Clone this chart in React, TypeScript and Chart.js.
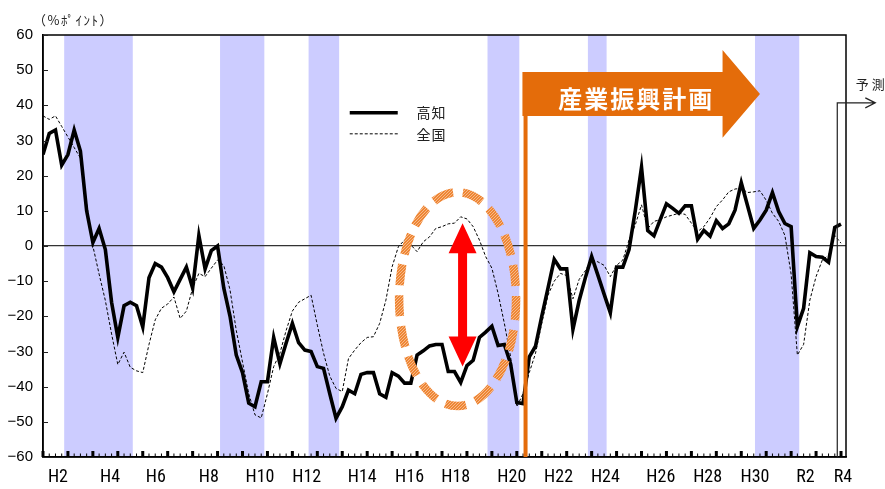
import React, { useEffect, useRef } from 'react';
import { Chart, registerables } from 'chart.js';

Chart.register(...registerables);

// 高知 (Kochi) business conditions DI, quarterly from H2.3 (index 0) to R4.3 forecast (index 128)
const kochi = [
  26, 32, 33, 23, 26, 33, 27, 10, 1, 5,
  -1, -16, -26, -17, -16, -17, -23, -9, -5, -6,
  -9, -13, -9.5, -6, -12, 3, -6.5, -1.3, 0, -12,
  -20, -31, -36, -44.7, -45.7, -38.6, -38.6, -26, -33.5, -27.6,
  -22, -27.5, -29.6, -30, -34.3, -34.8, -42, -49, -45.7, -41,
  -42, -36.5, -36, -36, -42, -43, -36, -37, -39, -39,
  -31, -29.8, -28.4, -28, -28, -35.7, -35.7, -38.8, -34, -32.5,
  -26, -24.5, -22.8, -28.3, -28, -33.5, -44.5, -44.8, -31.5, -28.5,
  -20, -12, -3.8, -6.5, -6.5, -23.7, -15.5, -9, -3, -8.3,
  -13.7, -19, -6, -6, -1, 10, 22.4, 4.4, 2.9, 7.5,
  12, 10.7, 9.3, 11.4, 11.4, 1.9, 4.4, 2.8, 7.2, 5,
  6.3, 10.2, 18, 11.5, 5, 7.4, 10.2, 15.2, 9.8, 6.4,
  5.5, -22.9, -17.7, -1.9, -3, -3.2, -4.6, 5.3, 6.2,
];

// 全国 (nationwide)
const national = [
  37, 36, 37, 34, 31, 28, 25, 12, 0, -8,
  -15.5, -25, -33.7, -30.2, -34.5, -35.5, -36, -28, -21, -17.7,
  -16.5, -14.5, -20.6, -18.5, -12, -7.8, -8.7, -6.3, -4, -5.5,
  -12.5, -24, -33, -42, -48, -48.9, -42, -34.3, -30.5, -24,
  -18.5, -16, -15, -14, -22.5, -30.5, -37, -40.5, -41.4, -32,
  -29.6, -27.5, -26, -25.8, -22, -15.4, -5.9, -0.2, 1.7, 0.3,
  -1.6, 1.2, 2.6, 5, 5.5, 6.3, 6.5, 8.3, 7.7, 5.5,
  1.7, -3, -6.3, -13.5, -22, -31.5, -45.7, -42, -36, -30.5,
  -22, -14, -10, -7.8, -8.4, -15, -9.5, -7, -4, -4.5,
  -5.5, -8.7, -5.5, -4, 1.7, 6, 11.7, 5, 7, 7.5,
  8.3, 8.8, 9.3, 9, 6.5, 4.1, 5.5, 8, 11.2, 13.1,
  15.4, 16.2, 16.4, 15.2, 15.4, 15.7, 13, 9.3, 7, 3,
  -8, -31, -28, -15.4, -8.7, -4, -2.6, 3, 0.8,
];

const xLabels = ['H2', 'H4', 'H6', 'H8', 'H10', 'H12', 'H14', 'H16', 'H18', 'H20', 'H22', 'H24', 'H26', 'H28', 'H30', 'R2', 'R4'];
const xLabelAt = [2.4, 10.75, 18.1, 26.6, 34.8, 42.3, 51.2, 58.8, 66.2, 75.2, 82.7, 90.2, 99.1, 106.6, 114.2, 122.3, 128.3];

// 景気後退期 (recession shading), in quarter-index units
const recessionStart = [3.4, 28.4, 42.6, 71.3, 87.4, 114.2];
const recessionEnd = [14.4, 35.5, 47.5, 76.4, 90.4, 121.3];

const seriesNames = ['高知', '全国'];
const yUnit = '（%ﾎﾟｲﾝﾄ）';
const planLabel = '産業振興計画';
const forecastLabel = '予 測';

const ORANGE = '#E46C0A';

const setSpacing = (ctx: any, v: string) => {
  try { ctx.letterSpacing = v; } catch (e) { /* ignore */ }
};

const overlay = {
  id: 'overlay',
  beforeDraw(chart: any) {
    const { ctx, chartArea: a, scales } = chart;
    const x = scales.x;
    ctx.save();
    ctx.fillStyle = '#CCCCFF';
    recessionStart.forEach((s, i) => {
      const x1 = x.getPixelForValue(s);
      const x2 = x.getPixelForValue(recessionEnd[i]);
      ctx.fillRect(x1, a.top, x2 - x1, a.bottom - a.top);
    });
    ctx.restore();
  },
  afterDraw(chart: any) {
    const { ctx, chartArea: a, scales } = chart;
    const x = scales.x;
    const y = scales.y;
    const X = (v: number) => x.getPixelForValue(v);
    const Y = (v: number) => y.getPixelForValue(v);
    ctx.save();

    // frame
    ctx.strokeStyle = '#000';
    ctx.lineWidth = 1.5;
    ctx.strokeRect(a.left, a.top, a.right - a.left, a.bottom - a.top);

    // x tick marks (inward)
    ctx.fillStyle = '#000';
    for (let i = 0; i <= 128; i++) {
      const px = X(i);
      if (i % 4 === 0) ctx.fillRect(px - 1.5, a.bottom - 6, 3, 6);
      else ctx.fillRect(px - 0.5, a.bottom - 3.5, 1, 3.5);
    }
    // y tick marks (inward)
    ctx.strokeStyle = '#222';
    ctx.lineWidth = 1;
    for (let v = -60; v <= 60; v += 10) {
      const py = Math.round(Y(v)) + 0.5;
      ctx.beginPath();
      ctx.moveTo(a.left, py);
      ctx.lineTo(a.left + 5, py);
      ctx.stroke();
    }

    // dashed ellipse with a fine texture
    const pc = document.createElement('canvas');
    pc.width = 3; pc.height = 3;
    const pctx = pc.getContext('2d')!;
    pctx.fillStyle = '#EE8634';
    pctx.fillRect(0, 0, 3, 3);
    pctx.fillStyle = '#F7B98A';
    pctx.fillRect(0, 0, 1, 1);
    pctx.fillRect(2, 1, 1, 1);
    pctx.fillRect(1, 2, 1, 1);
    const pat = ctx.createPattern(pc, 'repeat');
    const ecx = X(66.5), ecy = Y(-15.1);
    const erx = X(66.5 + 9.38) - ecx, ery = Y(-15.1 - 30.4) - ecy;
    ctx.beginPath();
    ctx.ellipse(ecx, ecy, erx, ery, 0, 0, Math.PI * 2);
    ctx.setLineDash([21, 10]);
    ctx.lineWidth = 8.5;
    ctx.strokeStyle = pat || '#EE8634';
    ctx.stroke();
    ctx.setLineDash([]);

    // red double arrow
    const ax = X(67.3), yt = Y(6.45), yb = Y(-34.3);
    const hw = 14, hl = 30, sw = 4.5;
    ctx.beginPath();
    ctx.moveTo(ax, yt);
    ctx.lineTo(ax + hw, yt + hl);
    ctx.lineTo(ax + sw, yt + hl);
    ctx.lineTo(ax + sw, yb - hl);
    ctx.lineTo(ax + hw, yb - hl);
    ctx.lineTo(ax, yb);
    ctx.lineTo(ax - hw, yb - hl);
    ctx.lineTo(ax - sw, yb - hl);
    ctx.lineTo(ax - sw, yt + hl);
    ctx.lineTo(ax - hw, yt + hl);
    ctx.closePath();
    ctx.fillStyle = '#FF0000';
    ctx.fill();

    // orange vertical line
    ctx.fillStyle = ORANGE;
    const lx = X(77.4);
    ctx.fillRect(lx - 2, Y(37), 4, Y(-60) - Y(37));

    // orange block arrow
    const bl = X(76.9), bt = Y(49.5), bb = Y(37), hx = X(109), tip = X(115);
    const ht = Y(55.7), hb = Y(30.8), my = (ht + hb) / 2;
    ctx.beginPath();
    ctx.moveTo(bl, bt);
    ctx.lineTo(hx, bt);
    ctx.lineTo(hx, ht);
    ctx.lineTo(tip, my);
    ctx.lineTo(hx, hb);
    ctx.lineTo(hx, bb);
    ctx.lineTo(bl, bb);
    ctx.closePath();
    ctx.fill();
    ctx.fillStyle = '#FFFFFF';
    ctx.font = 'bold 24px "Noto Sans CJK JP", sans-serif';
    ctx.textAlign = 'center';
    ctx.textBaseline = 'middle';
    setSpacing(ctx, '2px');
    ctx.fillText(planLabel, X(95) + 1, Y(41.8));
    setSpacing(ctx, '0px');

    // forecast marker
    ctx.strokeStyle = '#222';
    ctx.lineWidth = 1.2;
    const fx = X(127.4), fy = Y(40.7), fe = X(133.5);
    ctx.beginPath();
    ctx.moveTo(fx, Y(-60));
    ctx.lineTo(fx, fy);
    ctx.lineTo(fe, fy);
    ctx.moveTo(fe - 10, fy - 5);
    ctx.lineTo(fe, fy);
    ctx.lineTo(fe - 10, fy + 5);
    ctx.stroke();
    ctx.fillStyle = '#222';
    ctx.font = '13px "Noto Sans CJK JP", sans-serif';
    ctx.textAlign = 'center';
    ctx.fillText(forecastLabel, X(132.7), Y(46));

    // legend
    ctx.strokeStyle = '#000';
    ctx.lineWidth = 3.5;
    ctx.beginPath();
    ctx.moveTo(X(49.2), Y(37.9));
    ctx.lineTo(X(56.9), Y(37.9));
    ctx.stroke();
    ctx.lineWidth = 1;
    ctx.setLineDash([3, 2]);
    ctx.beginPath();
    ctx.moveTo(X(49.2), Y(31.9));
    ctx.lineTo(X(56.9), Y(31.9));
    ctx.stroke();
    ctx.setLineDash([]);
    ctx.fillStyle = '#222';
    ctx.font = '14px "Noto Sans CJK JP", sans-serif';
    ctx.textAlign = 'left';
    setSpacing(ctx, '1px');
    ctx.fillText(seriesNames[0], X(59.9), Y(38));
    ctx.fillText(seriesNames[1], X(59.9), Y(31.6));

    // unit label
    ctx.font = '13px "Noto Sans CJK JP", sans-serif';
    ctx.fillStyle = '#222';
    ctx.textAlign = 'left';
    setSpacing(ctx, '1.5px');
    ctx.fillText(yUnit, 33, 20);
    setSpacing(ctx, '0px');

    ctx.restore();
  },
};

export default function App() {
  const ref = useRef<HTMLCanvasElement>(null);
  useEffect(() => {
    if (!ref.current) return;
    const idx = kochi.map((_, i) => i);
    const chart = new Chart(ref.current, {
      type: 'line',
      data: {
        datasets: [
          {
            label: seriesNames[0],
            data: kochi.map((v, i) => ({ x: idx[i], y: v })),
            borderColor: '#000',
            borderWidth: 3.6,
            pointRadius: 0,
            tension: 0,
            borderJoinStyle: 'miter',
          },
          {
            label: seriesNames[1],
            data: national.map((v, i) => ({ x: idx[i], y: v })),
            borderColor: '#000',
            borderWidth: 1,
            borderDash: [3, 2],
            pointRadius: 0,
            tension: 0,
          },
        ],
      },
      options: {
        animation: false,
        responsive: false,
        maintainAspectRatio: false,
        layout: { padding: { left: 0, right: 39, top: 35, bottom: 0 } },
        plugins: { legend: { display: false }, tooltip: { enabled: false } },
        scales: {
          x: {
            type: 'linear',
            min: 0,
            max: 128.8,
            afterBuildTicks: (s: any) => {
              s.ticks = xLabelAt.map((v) => ({ value: v }));
            },
            afterFit: (s: any) => {
              s.height = 32;
            },
            ticks: {
              autoSkip: false,
              maxRotation: 0,
              padding: 10,
              color: '#000',
              font: { size: 18, family: '"Liberation Sans Narrow", "Arial Narrow", "Roboto Condensed", Roboto, sans-serif' },
              callback: (_v: any, i: number) => xLabels[i],
            },
            grid: { display: false, drawTicks: false },
            border: { display: true, color: '#000', width: 1.5 },
          },
          y: {
            min: -60,
            max: 60,
            afterFit: (s: any) => {
              s.width = 43;
            },
            ticks: {
              stepSize: 10,
              padding: 10,
              color: '#000',
              font: { size: 15, family: '"Liberation Sans", Arial, sans-serif' },
              callback: (v: any) => (v < 0 ? '\u2212' + Math.abs(v) : String(v)),
            },
            grid: {
              drawTicks: false,
              lineWidth: 1.3,
              color: (c: any) => (c.tick && c.tick.value === 0 ? '#333' : 'rgba(0,0,0,0)'),
            },
            border: { display: true, color: '#000', width: 1.5 },
          },
        },
      },
      plugins: [overlay],
    });
    return () => chart.destroy();
  }, []);
  return (
    <div style={{ position: 'absolute', left: 0, top: 0, width: 885, height: 489, background: '#fff' }}>
      <canvas ref={ref} width={885} height={489} style={{ display: 'block', width: 885, height: 489 }} />
    </div>
  );
}
